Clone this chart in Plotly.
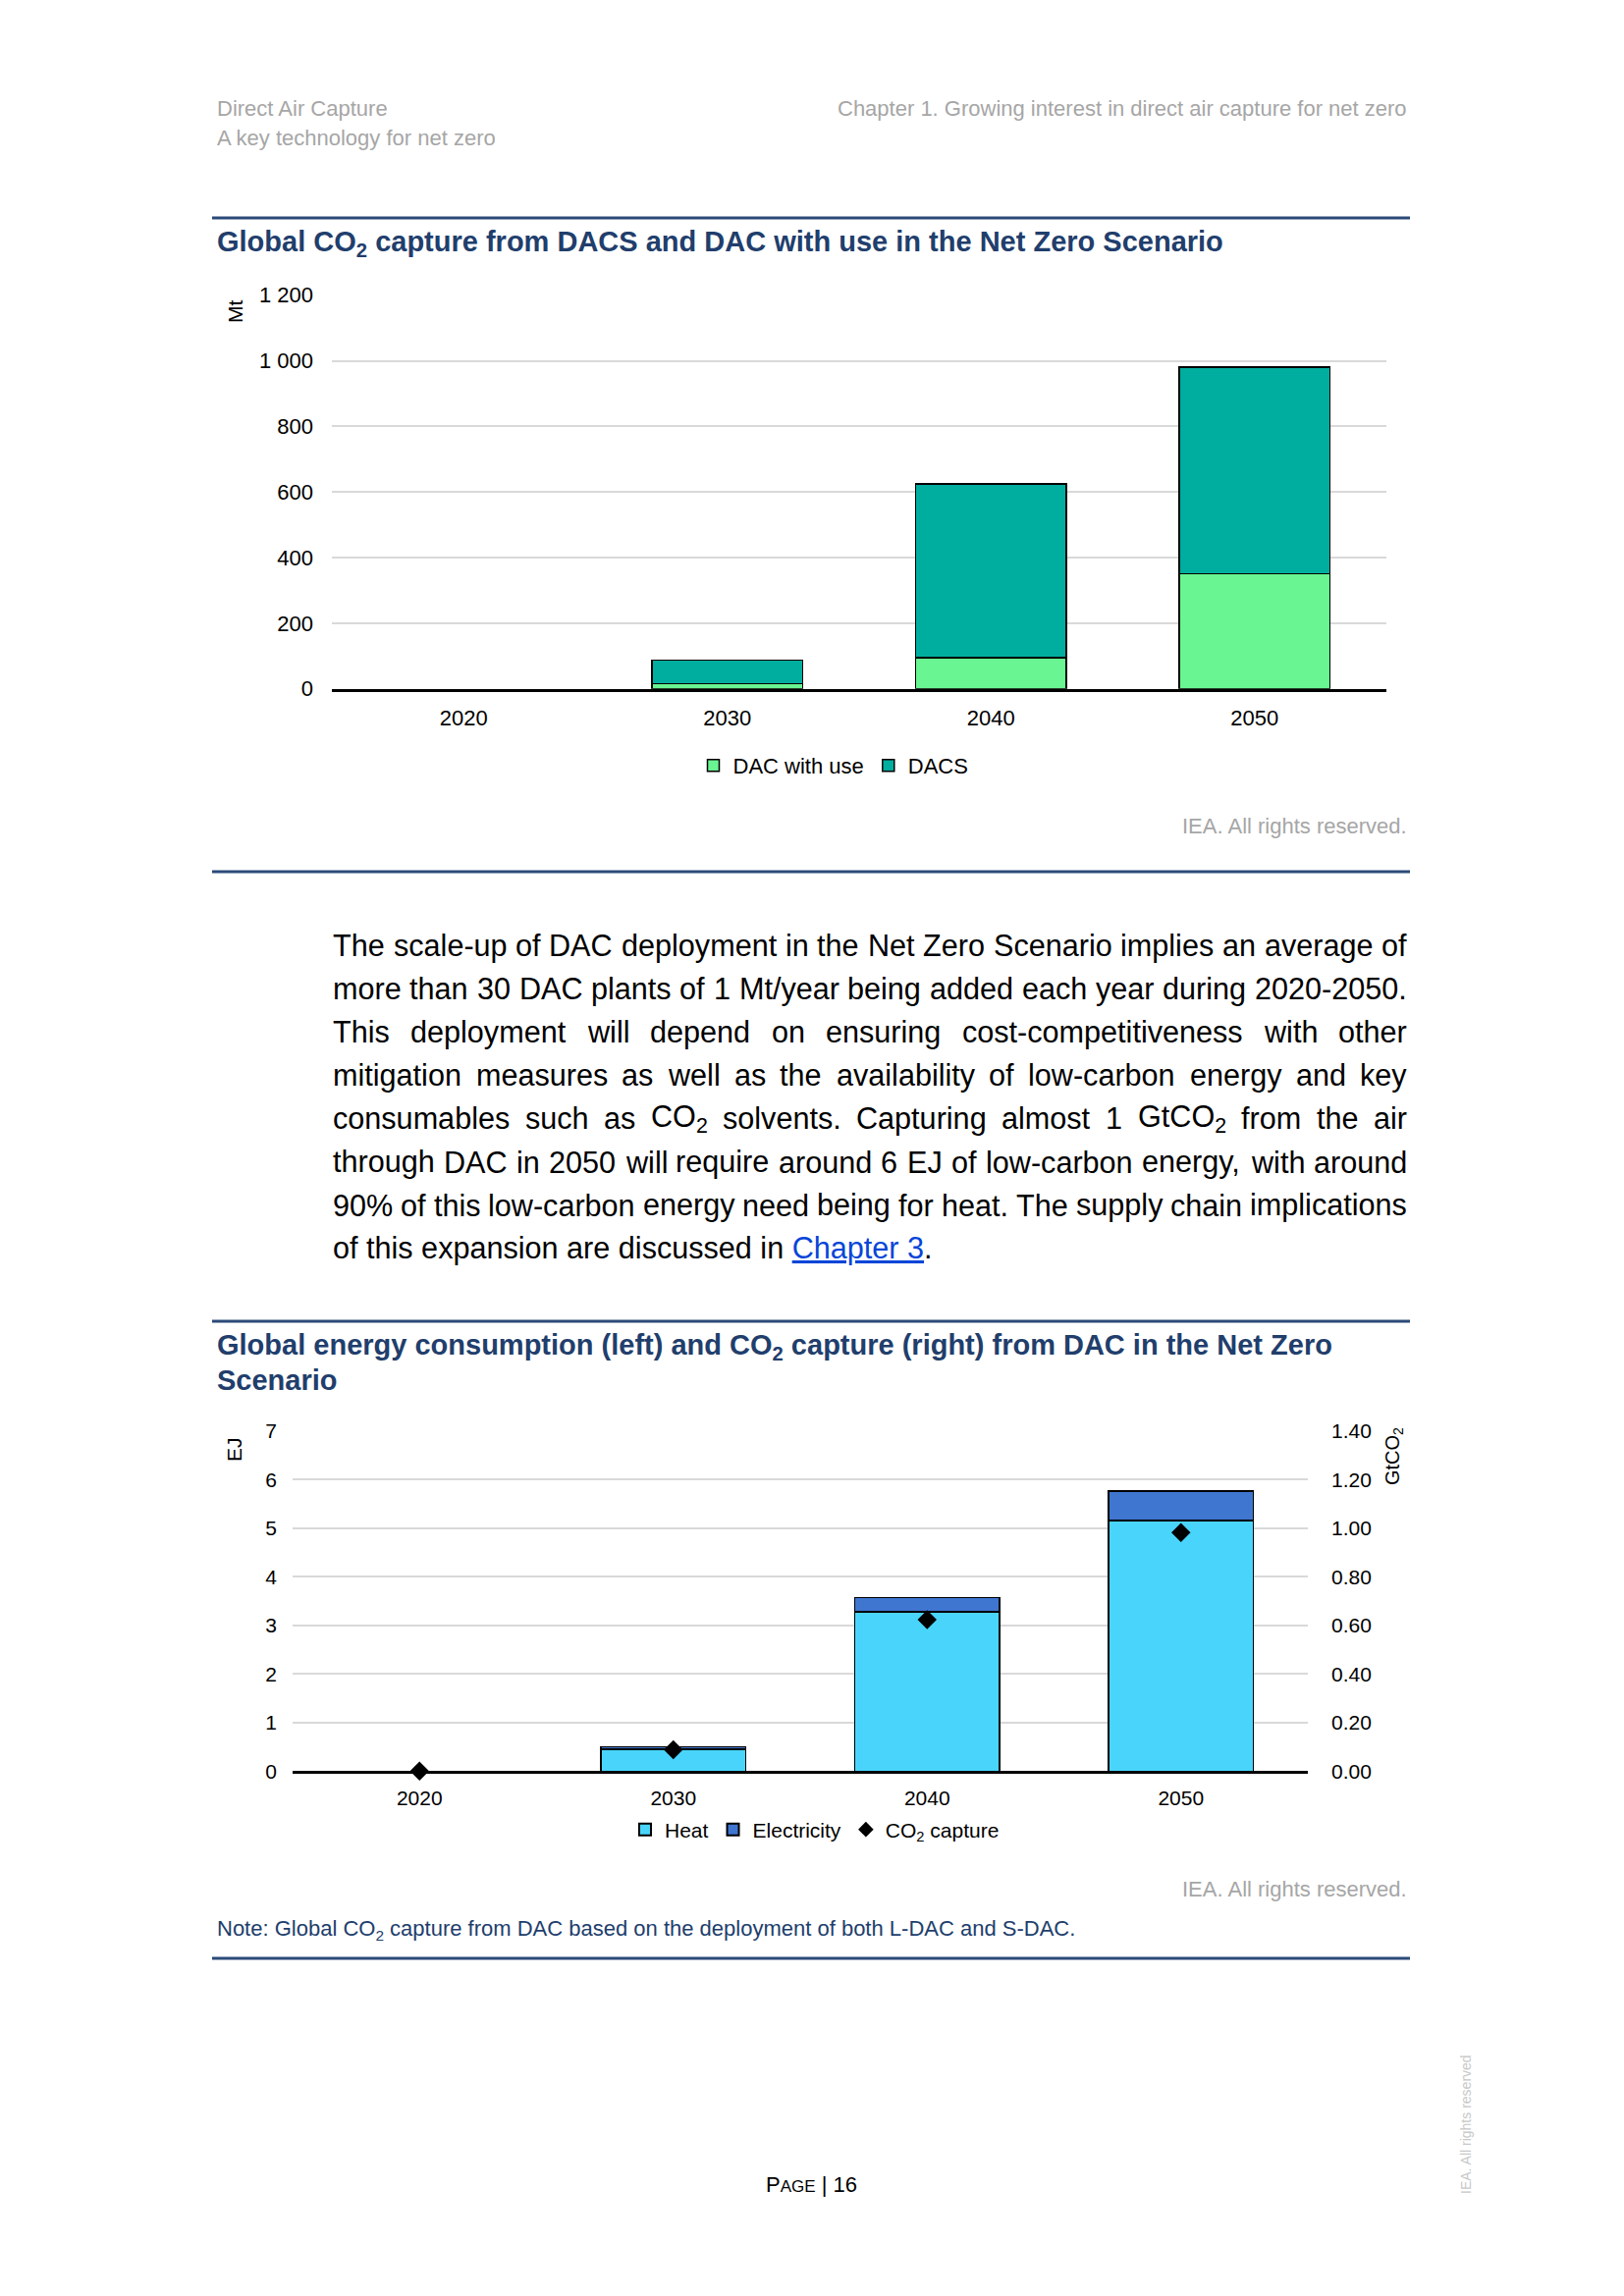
import re
import plotly.graph_objects as go

# ---------------- data ----------------
years = ["2020", "2030", "2040", "2050"]

# Chart 1: Global CO2 capture (Mt)
dac_with_use = [0, 15, 95, 350]
dacs = [0, 72, 530, 630]
c1_tickvals = [0, 200, 400, 600, 800, 1000, 1200]
c1_ticktext = ["0", "200", "400", "600", "800", "1 000", "1 200"]

# Chart 2: energy consumption (EJ) and CO2 capture (GtCO2)
heat = [0, 0.45, 3.28, 5.16]
electricity = [0, 0.05, 0.29, 0.60]
co2_capture = [0, 0.088, 0.623, 0.982]

body_lines = [
    "The scale-up of DAC deployment in the Net Zero Scenario implies an average of",
    "more than 30 DAC plants of 1 Mt/year being added each year during 2020-2050.",
    "This deployment will depend on ensuring cost-competitiveness with other",
    "mitigation measures as well as the availability of low-carbon energy and key",
    "consumables such as CO<sub>2</sub> solvents. Capturing almost 1 GtCO<sub>2</sub> from the air",
    "through DAC in 2050 will require around 6 EJ of low-carbon energy, with around",
    "90% of this low-carbon energy need being for heat. The supply chain implications",
]
body_last = "of this expansion are discussed in <span style='color:#0645D8'><u>Chapter 3</u></span>."

# ---------------- page geometry ----------------
W, H = 1654, 2339
FONT = "Liberation Sans, Arial, sans-serif"
NAVY = "#213E6C"
GREY = "#A6A6A6"


def px(x):
    return x / W


def py(y):
    return 1 - y / H


annotations = []


def note(x, y, text, size=22, color="#000000", xanchor="left", yanchor="middle", angle=0):
    annotations.append(dict(
        x=px(x), y=py(y), xref="paper", yref="paper", text=text, showarrow=False,
        xanchor=xanchor, yanchor=yanchor, textangle=angle, borderpad=0, borderwidth=0,
        font=dict(size=size, color=color, family=FONT)))


# Arial / Liberation Sans advance widths (per 1000 em)
AW = {' ': 278, '!': 278, '%': 889, "'": 191, '(': 333, ')': 333, ',': 278, '-': 333, '.': 278,
      '/': 278, ':': 278, ';': 278, '?': 556,
      'A': 667, 'B': 667, 'C': 722, 'D': 722, 'E': 667, 'F': 611, 'G': 778, 'H': 722, 'I': 278,
      'J': 500, 'K': 667, 'L': 556, 'M': 833, 'N': 722, 'O': 778, 'P': 667, 'Q': 778, 'R': 722,
      'S': 667, 'T': 611, 'U': 722, 'V': 667, 'W': 944, 'X': 667, 'Y': 667, 'Z': 611,
      'a': 556, 'b': 556, 'c': 500, 'd': 556, 'e': 556, 'f': 278, 'g': 556, 'h': 556, 'i': 222,
      'j': 222, 'k': 500, 'l': 222, 'm': 833, 'n': 556, 'o': 556, 'p': 556, 'q': 556, 'r': 333,
      's': 500, 't': 278, 'u': 556, 'v': 500, 'w': 722, 'x': 500, 'y': 500, 'z': 500}


def text_width(markup, size):
    total = 0.0
    for part in re.split(r'(<sub>.*?</sub>)', markup):
        if part.startswith('<sub>'):
            total += sum(AW.get(c, 556) for c in part[5:-6]) * 0.7
        else:
            total += sum(AW.get(c, 556) for c in part)
    return total / 1000.0 * size


def shown(values):
    # empty (zero) segments are not drawn, as in the original
    return [v if v else None for v in values]


# ---------------- figure ----------------
fig = go.Figure()
OUT = dict(color="#000", width=1.5)

fig.add_trace(go.Bar(x=years, y=shown(dac_with_use), name="DAC with use",
                     marker=dict(color="#69F592", line=OUT), xaxis="x", yaxis="y", legend="legend"))
fig.add_trace(go.Bar(x=years, y=shown(dacs), name="DACS",
                     marker=dict(color="#00AE9F", line=OUT), xaxis="x", yaxis="y", legend="legend"))

fig.add_trace(go.Bar(x=years, y=shown(heat), name="Heat",
                     marker=dict(color="#49D5FB", line=OUT), xaxis="x2", yaxis="y2", legend="legend2"))
fig.add_trace(go.Bar(x=years, y=shown(electricity), name="Electricity",
                     marker=dict(color="#3F76D0", line=OUT), xaxis="x2", yaxis="y2", legend="legend2"))
fig.add_trace(go.Scatter(x=years, y=co2_capture, name="CO<sub>2</sub> capture", mode="markers",
                         marker=dict(symbol="diamond", size=15, color="#000"), cliponaxis=False,
                         xaxis="x2", yaxis="y3", legend="legend2"))

tickfont = dict(size=22, color="#000", family=FONT)
tickfont2 = dict(size=21, color="#000", family=FONT)

fig.update_layout(
    width=W, height=H, margin=dict(l=0, r=0, t=0, b=0, pad=0, autoexpand=False),
    paper_bgcolor="white", plot_bgcolor="white",
    barmode="stack", bargap=0.43,
    font=dict(family=FONT, size=22, color="#000"),
    xaxis=dict(domain=[px(338), px(1412)], anchor="y", type="category", showline=True,
               linecolor="#000", linewidth=2.5, ticks="", showgrid=False, automargin=False,
               tickfont=tickfont, ticklabelstandoff=8, fixedrange=True),
    yaxis=dict(domain=[py(701.7), py(300.7)], anchor="x", range=[0, 1200], automargin=False,
               tickvals=c1_tickvals, ticktext=c1_ticktext, showgrid=True, gridcolor="#D9D9D9",
               gridwidth=2, zeroline=False, showline=False, ticks="",
               tickfont=tickfont, ticklabelstandoff=18),
    xaxis2=dict(domain=[px(298), px(1332)], anchor="y2", type="category", showline=True,
                linecolor="#000", linewidth=2.5, ticks="", showgrid=False, automargin=False,
                tickfont=tickfont2, ticklabelstandoff=7),
    yaxis2=dict(domain=[py(1804.3), py(1457.7)], anchor="x2", range=[0, 7], dtick=1,
                showgrid=True, gridcolor="#D9D9D9", gridwidth=2, zeroline=False, automargin=False,
                showline=False, ticks="", tickfont=tickfont2, ticklabelstandoff=15),
    yaxis3=dict(overlaying="y2", anchor="x2", side="right", range=[0, 1.4], dtick=0.2,
                tickformat=".2f", showgrid=False, zeroline=False, showline=False, ticks="",
                automargin=False, tickfont=tickfont2, ticklabelstandoff=23),
    legend=dict(orientation="h", x=px(849), xanchor="center", y=py(780), yanchor="middle",
                font=dict(size=22, color="#000", family=FONT), itemwidth=30,
                bgcolor="rgba(0,0,0,0)", traceorder="normal"),
    legend2=dict(orientation="h", x=px(830), xanchor="center", y=py(1864), yanchor="middle",
                 font=dict(size=21, color="#000", family=FONT), itemwidth=30,
                 bgcolor="rgba(0,0,0,0)", traceorder="normal", itemsizing="constant"),
)

# ---------------- page texts ----------------
note(221, 111, "Direct Air Capture", 22, GREY)
note(221, 140, "A key technology for net zero", 22, GREY)
note(1433, 111, "Chapter 1. Growing interest in direct air capture for net zero", 22, GREY, xanchor="right")

note(221, 248, "<b>Global CO<sub>2</sub> capture from DACS and DAC with use in the Net Zero Scenario</b>", 29, NAVY)
note(239, 318, "Mt", 21, "#000", xanchor="center", angle=-90)
note(1433, 841, "IEA. All rights reserved.", 22, GREY, xanchor="right")

# justified body paragraph
BODY_SIZE = 30.6
LEFT, RIGHT = 339, 1433
y0, step = 963, 44.1
for i, line in enumerate(body_lines):
    words = line.split(" ")
    widths = [text_width(w_, BODY_SIZE) for w_ in words]
    gap = (RIGHT - LEFT - sum(widths)) / (len(words) - 1)
    x = LEFT
    for w_, wd in zip(words, widths):
        note(x, y0 + i * step, w_, BODY_SIZE, "#000")
        x += wd + gap
note(LEFT, y0 + len(body_lines) * step, body_last, BODY_SIZE, "#000")

note(221, 1372, "<b>Global energy consumption (left) and CO<sub>2</sub> capture (right) from DAC in the Net Zero</b>", 29, NAVY)
note(221, 1406, "<b>Scenario</b>", 29, NAVY)
note(238, 1477, "EJ", 21, "#000", xanchor="center", angle=-90)
note(1419, 1484, "GtCO<sub>2</sub>", 20, "#000", xanchor="center", angle=-90)
note(1433, 1924, "IEA. All rights reserved.", 22, GREY, xanchor="right")
note(221, 1966, "Note: Global CO<sub>2</sub> capture from DAC based on the deployment of both L-DAC and S-DAC.", 22, NAVY)

note(826, 2225, "P<span style='font-size:17px'>AGE</span> | 16", 22, "#000", xanchor="center")
note(1493, 2164, "IEA. All rights reserved", 14, "#C8C8C8", xanchor="center", angle=-90)

fig.update_layout(annotations=annotations)

# horizontal rules
shapes = []
for yy in [222, 888, 1346, 1995]:
    shapes.append(dict(type="line", xref="paper", yref="paper", x0=px(216), x1=px(1436),
                       y0=py(yy), y1=py(yy), line=dict(color="#2B4A78", width=3)))
fig.update_layout(shapes=shapes)

fig.write_html("out.html", post_script="document.body.style.margin='0';",
               config={"displayModeBar": False})
